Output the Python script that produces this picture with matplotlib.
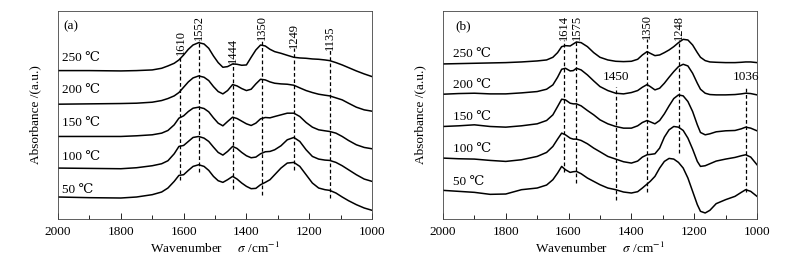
import matplotlib
matplotlib.use("Agg")
import matplotlib.pyplot as plt
from matplotlib.ticker import MultipleLocator

plt.rcParams['font.family'] = ['Liberation Serif', 'DejaVu Serif']
plt.rcParams['mathtext.fontset'] = 'stix'
plt.rcParams['font.size'] = 9

# ---- donnees panneau (a) : absorbance (u.a., spectres decales) ----
wn_a = [2000, 1900, 1800, 1750, 1700, 1670, 1650, 1630, 1615, 1600, 1585, 1570, 1552,
        1535, 1520, 1505, 1490, 1475, 1460, 1444, 1430, 1415, 1400, 1385, 1370, 1355,
        1340, 1325, 1310, 1290, 1270, 1249, 1230, 1210, 1190, 1170, 1150, 1135, 1115,
        1095, 1075, 1050, 1025, 1000]
a_250 = [4.46, 4.46, 4.45, 4.46, 4.48, 4.53, 4.60, 4.68, 4.78, 4.93, 5.10, 5.23, 5.30,
         5.26, 5.13, 4.90, 4.70, 4.56, 4.58, 4.66, 4.65, 4.62, 4.63, 4.86, 5.08, 5.23,
         5.20, 5.10, 5.03, 4.98, 4.92, 4.86, 4.84, 4.83, 4.81, 4.80, 4.78, 4.76, 4.70,
         4.63, 4.55, 4.45, 4.36, 4.28]
a_200 = [3.45, 3.46, 3.47, 3.48, 3.51, 3.56, 3.62, 3.70, 3.80, 3.96, 4.12, 4.24, 4.30,
         4.26, 4.16, 3.98, 3.83, 3.76, 3.86, 4.04, 4.00, 3.92, 3.86, 3.90, 4.06, 4.20,
         4.18, 4.12, 4.08, 4.06, 4.05, 4.02, 3.94, 3.86, 3.80, 3.75, 3.72, 3.70, 3.64,
         3.58, 3.48, 3.36, 3.28, 3.24]
a_150 = [2.48, 2.48, 2.48, 2.50, 2.53, 2.58, 2.66, 2.83, 3.03, 3.10, 3.23, 3.33, 3.36,
         3.32, 3.22, 3.04, 2.88, 2.80, 2.93, 3.06, 3.02, 2.94, 2.86, 2.81, 2.88, 3.01,
         3.05, 3.04, 3.08, 3.13, 3.18, 3.18, 3.08, 2.90, 2.76, 2.68, 2.65, 2.63, 2.58,
         2.48, 2.36, 2.23, 2.15, 2.11]
a_100 = [1.53, 1.52, 1.51, 1.54, 1.60, 1.66, 1.75, 1.96, 2.18, 2.21, 2.33, 2.45, 2.48,
         2.43, 2.33, 2.16, 2.00, 1.92, 2.03, 2.18, 2.12, 2.00, 1.90, 1.84, 1.86, 1.96,
         2.02, 2.03, 2.08, 2.20, 2.38, 2.45, 2.33, 2.08, 1.88, 1.80, 1.77, 1.76, 1.70,
         1.60, 1.48, 1.33, 1.20, 1.13]
a_50 = [0.66, 0.64, 0.63, 0.66, 0.73, 0.81, 0.93, 1.13, 1.31, 1.33, 1.46, 1.58, 1.63,
        1.58, 1.46, 1.28, 1.15, 1.10, 1.18, 1.28, 1.20, 1.08, 0.98, 0.91, 0.92, 1.03,
        1.10, 1.18, 1.33, 1.53, 1.68, 1.70, 1.58, 1.33, 1.08, 0.93, 0.88, 0.86, 0.78,
        0.66, 0.55, 0.43, 0.33, 0.26]

# ---- donnees panneau (b) ----
wn_b = [2000, 1950, 1900, 1850, 1800, 1750, 1700, 1670, 1650, 1635, 1622, 1610, 1595,
        1585, 1575, 1560, 1540, 1520, 1500, 1475, 1450, 1425, 1400, 1380, 1365, 1350,
        1340, 1325, 1310, 1295, 1280, 1265, 1250, 1235, 1220, 1205, 1190, 1180, 1165,
        1150, 1130, 1100, 1070, 1050, 1036, 1020, 1000]
b_250 = [4.66, 4.67, 4.68, 4.69, 4.70, 4.72, 4.75, 4.78, 4.86, 5.00, 5.18, 5.21, 5.20,
         5.26, 5.32, 5.30, 5.18, 5.00, 4.86, 4.78, 4.74, 4.73, 4.74, 4.80, 4.93, 5.03,
         4.98, 4.91, 4.93, 5.00, 5.08, 5.18, 5.30, 5.40, 5.38, 5.23, 5.00, 4.86, 4.76,
         4.72, 4.71, 4.70, 4.70, 4.71, 4.72, 4.72, 4.70]
b_200 = [3.75, 3.77, 3.78, 3.76, 3.76, 3.79, 3.83, 3.90, 4.03, 4.26, 4.50, 4.53, 4.45,
         4.46, 4.53, 4.48, 4.33, 4.15, 3.98, 3.86, 3.78, 3.76, 3.80, 3.86, 3.96, 4.04,
         3.98, 3.88, 3.93, 4.08, 4.26, 4.43, 4.58, 4.65, 4.60, 4.38, 4.08, 3.90, 3.78,
         3.74, 3.73, 3.73, 3.74, 3.76, 3.78, 3.77, 3.73]
b_150 = [2.78, 2.80, 2.83, 2.78, 2.76, 2.80, 2.86, 2.96, 3.13, 3.38, 3.60, 3.58, 3.48,
         3.46, 3.46, 3.40, 3.26, 3.13, 2.98, 2.86, 2.78, 2.73, 2.73, 2.80, 2.90, 2.96,
         2.92, 2.86, 2.96, 3.16, 3.40, 3.62, 3.73, 3.70, 3.53, 3.23, 2.83, 2.60, 2.53,
         2.56, 2.62, 2.65, 2.66, 2.71, 2.76, 2.73, 2.65]
b_100 = [1.83, 1.81, 1.80, 1.76, 1.73, 1.78, 1.88, 2.00, 2.18, 2.40, 2.58, 2.53, 2.43,
         2.40, 2.40, 2.36, 2.26, 2.13, 2.02, 1.88, 1.80, 1.72, 1.68, 1.74, 1.86, 1.93,
         1.94, 1.96, 2.13, 2.46, 2.68, 2.78, 2.76, 2.66, 2.43, 2.10, 1.73, 1.58, 1.60,
         1.66, 1.74, 1.80, 1.85, 1.90, 1.93, 1.86, 1.63]
b_50 = [0.86, 0.83, 0.80, 0.74, 0.75, 0.88, 0.93, 1.02, 1.18, 1.38, 1.58, 1.48, 1.40,
        1.42, 1.43, 1.36, 1.23, 1.13, 1.03, 0.93, 0.88, 0.81, 0.78, 0.82, 0.93, 1.05,
        1.13, 1.28, 1.53, 1.73, 1.82, 1.80, 1.70, 1.53, 1.23, 0.83, 0.43, 0.23, 0.18,
        0.26, 0.46, 0.58, 0.68, 0.80, 0.88, 0.83, 0.68]

temperatures = ["250 ℃", "200 ℃", "150 ℃", "100 ℃", "50 ℃"]

# pics marques : position, haut et bas du trait pointille
pics_a = [1610, 1552, 1444, 1350, 1249, 1135]
haut_a = [4.92, 5.37, 4.68, 5.37, 5.13, 5.07]
bas_a = [1.17, 1.41, 0.90, 0.72, 1.47, 0.63]

pics_b_vert = [1614, 1575, 1350, 1248]
haut_b_vert = [5.37, 5.37, 5.40, 5.37]
bas_b_vert = [1.41, 1.08, 0.81, 1.98]
pics_b_horiz = [1450, 1036]
haut_b_horiz = [3.96, 3.96]
bas_b_horiz = [0.57, 0.81]

fig = plt.figure(figsize=(7.97, 2.57), dpi=100)
ax_a = fig.add_axes([0.0728, 0.148, 0.394, 0.809])
ax_b = fig.add_axes([0.5558, 0.148, 0.394, 0.809])


def mise_en_forme(ax):
    ax.set_xlim(2000, 1000)
    ax.set_ylim(0, 6.25)
    ax.xaxis.set_major_locator(MultipleLocator(200))
    ax.xaxis.set_minor_locator(MultipleLocator(100))
    ax.tick_params(axis="x", which="both", direction="in", top=False, labelsize=9.5, pad=5)
    ax.tick_params(axis="x", which="major", length=4, width=0.6)
    ax.tick_params(axis="x", which="minor", length=3, width=0.6)
    ax.set_yticks([])
    for s in ax.spines.values():
        s.set_linewidth(0.6)
        s.set_color("#444444")
    ax.set_xlabel("Wavenumber     $\\sigma$ /cm$^{-1}$", fontsize=9.5, labelpad=2)
    ax.set_ylabel("Absorbance /(a.u.)", fontsize=9.5, labelpad=12)


# panneau (a)
for y in [a_250, a_200, a_150, a_100, a_50]:
    ax_a.plot(wn_a, y, color="black", lw=1.1)
for x, h, b in zip(pics_a, haut_a, bas_a):
    ax_a.plot([x, x], [b, h], color="black", lw=0.9, ls=(0, (3, 2)))
    ax_a.text(x, h, str(x), rotation=90, ha="center", va="bottom", fontsize=9)
for t, yt in zip(temperatures, [4.83, 3.87, 2.88, 1.86, 0.87]):
    ax_a.text(1987, yt, t, ha="left", va="center", fontsize=9.5)
ax_a.text(1984, 5.8, "(a)", ha="left", va="center", fontsize=9.5)
mise_en_forme(ax_a)

# panneau (b)
for y in [b_250, b_200, b_150, b_100, b_50]:
    ax_b.plot(wn_b, y, color="black", lw=1.1)
for x, h, b in zip(pics_b_vert, haut_b_vert, bas_b_vert):
    ax_b.plot([x, x], [b, h], color="black", lw=0.9, ls=(0, (3, 2)))
    ax_b.text(x, h, str(x), rotation=90, ha="center", va="bottom", fontsize=9)
for x, h, b in zip(pics_b_horiz, haut_b_horiz, bas_b_horiz):
    ax_b.plot([x, x], [b, h], color="black", lw=0.9, ls=(0, (3, 2)))
    ax_b.text(x, h + 0.12, str(x), ha="center", va="bottom", fontsize=9.5)
for t, yt in zip(temperatures, [4.95, 4.02, 3.06, 2.10, 1.11]):
    ax_b.text(1968, yt, t, ha="left", va="center", fontsize=9.5)
ax_b.text(1962, 5.8, "(b)", ha="left", va="center", fontsize=9.5)
mise_en_forme(ax_b)

fig.savefig("out.png", dpi=100)
